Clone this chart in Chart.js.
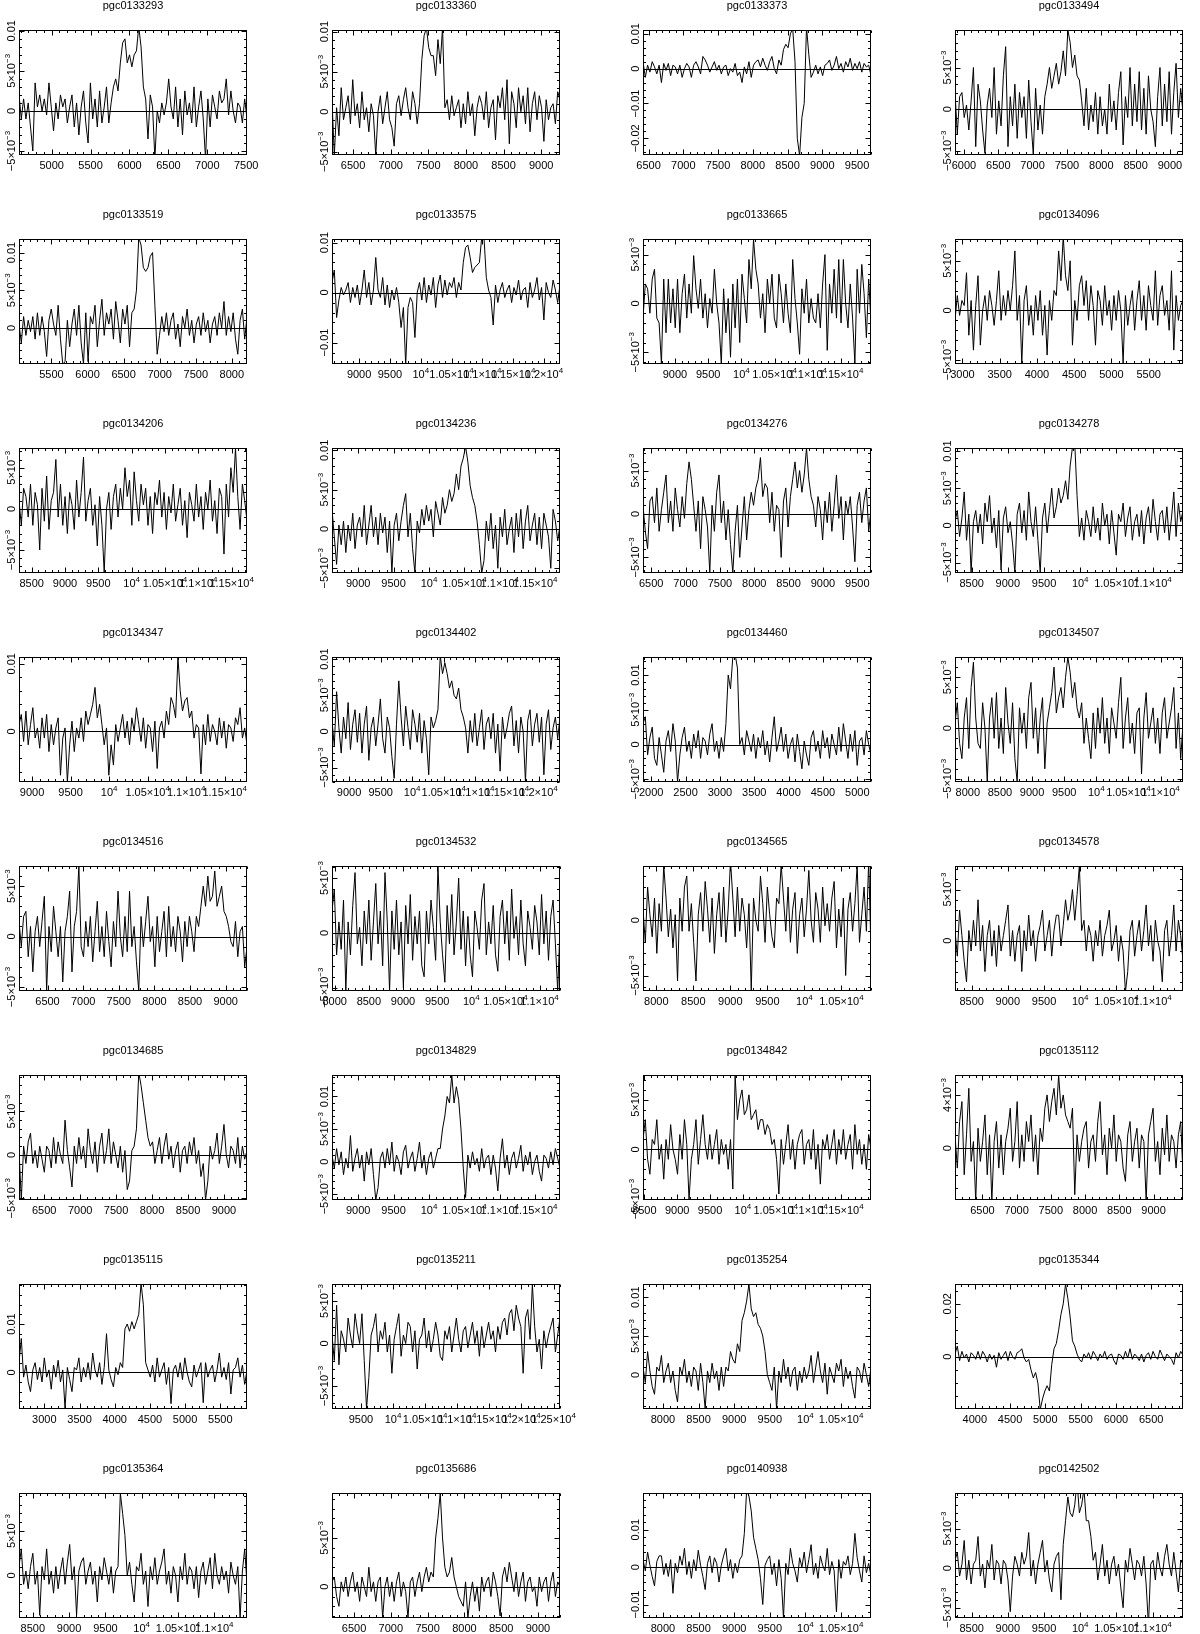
<!DOCTYPE html>
<html>
<head>
<meta charset="utf-8">
<title>HI spectra</title>
<script src="https://cdn.jsdelivr.net/npm/chart.js@4.4.0/dist/chart.umd.min.js"></script>
<style>
  html, body { margin: 0; padding: 0; background: #fff; overflow: hidden; }
  #sheet { position: relative; width: 1200px; height: 1634px; }
  #sheet canvas { position: absolute; }
</style>
</head>
<body>
<div id="sheet"></div>
<script>
// Panel names, read row by row (4 per row)
const galaxies = [
  'pgc0133293', 'pgc0133360', 'pgc0133373', 'pgc0133494',
  'pgc0133519', 'pgc0133575', 'pgc0133665', 'pgc0134096',
  'pgc0134206', 'pgc0134236', 'pgc0134276', 'pgc0134278',
  'pgc0134347', 'pgc0134402', 'pgc0134460', 'pgc0134507',
  'pgc0134516', 'pgc0134532', 'pgc0134565', 'pgc0134578',
  'pgc0134685', 'pgc0134829', 'pgc0134842', 'pgc0135112',
  'pgc0135115', 'pgc0135211', 'pgc0135254', 'pgc0135344',
  'pgc0135364', 'pgc0135686', 'pgc0140938', 'pgc0142502'
];

// Velocity window of each spectrum (km/s)
const velMin = [4580, 6220, 6420, 5870, 5050, 8560, 8520, 2900,
                8310, 8630, 6380, 8270, 8830, 8730, 1880, 7800,
                6100, 7960, 7820, 8270, 6150, 8630, 8480, 6100,
                2640, 9050, 7720, 3720, 8310, 6200, 7720, 8270];
const velMax = [7510, 9250, 9700, 9190, 8210, 12260, 11950, 5960,
                11730, 11850, 9700, 11420, 11790, 12340, 5200, 11350,
                9300, 11300, 10900, 11420, 9320, 11850, 11950, 9430,
                5880, 12600, 10920, 6950, 11450, 9300, 10920, 11420];

// Flux axis range and labelled step, in units of 10^-3
const fluxMin = [-5.5, -5.4, -24.8, -5.5, -4.8, -14.3, -6.2, -5.4,
                 -7.8, -5.6, -6.8, -6.4, -7.5, -7, -5.4, -5.3,
                 -5.4, -5.3, -6.4, -4.9, -5.2, -5.9, -5.1, -3.9,
                 -7.6, -7.7, -4.4, -19.8, -4.8, -3.2, -13.6, -6.3];
const fluxMax = [10.1, 10.2, 11.1, 9.5, 11.8, 10.7, 6.6, 7.2,
                 7.4, 10.3, 7.6, 10.4, 11, 10.3, 12.6, 7,
                 7, 6.1, 4.9, 7.3, 9.2, 13.3, 7.5, 5.5,
                 18.3, 7, 11.7, 27.5, 9.3, 9.6, 19.8, 9.5];
const fluxStep = [5, 5, 10, 5, 5, 10, 5, 5,
                  5, 5, 5, 5, 10, 5, 5, 5,
                  5, 5, 5, 5, 5, 5, 5, 4,
                  10, 5, 5, 20, 5, 5, 10, 5];

// Flux per channel (10^-3), 100 channels evenly spread over the window
const s0133293 = [2,-1,1.5,-1,1,-2,-5,3.5,0.5,2, 0,1.5,-0.5,3.5,0.5,-2.5,1,-1,2,0.5, 1.5,-1.5,0.5,2,-2,1,-3,0.5,2.5,-1.5, -4,3.5,-1,1.5,-2,2.5,-1.5,0.5,3,-1.5, 1,3,4,2.5,6,8.5,9,6,7,5.5, 7,7.5,10.5,8,3,1.5,-3.5,2,0.5,-6, 0,-1.5,1,-0.5,1,4,0.5,-1,3,-2, 1.5,-3,2.5,-0.5,1,-1.5,3,-2,0.5,2.5, -1,-6,1.5,-2,2,0.5,-1,2.5,1,1.5, 4,-0.5,2.5,0,-1.5,1,0.5,-1.5,1.5,-1];
const s0133360 = [1.5,-5.5,0.5,-3,3,-1,0.5,2,-1.5,4, -0.5,1,-2,2.5,-1,0.5,-2.5,1,-0.5,-5.5, 0,2,-1.5,0.5,2.5,-1,-2,-4.3,1,2, -0.5,1.5,3,0.5,-1,2.5,1,-1.5,1,6.5, 9.5,10.5,8,7,7,4.5,9,6,10.5,0.5, 1.5,-1,2,-0.5,0.5,1.5,-2,1,-1.5,2.5, -0.5,1,-3,0.5,2,1,-1,2.5,-2,0.5, 1.5,-3.5,2,0.5,3,-1,4,-4,2.5,1, -2,3,0,2,-1.5,3,-2.5,1,2.5,-1, 2,0.5,-3.7,1.5,-1,0.5,1,-1.5,2.5,1.5];
const s0133373 = [2,-2.5,1,-1,2,0.5,-1.5,1,-4,1.5, -0.5,1.5,-2,1,0.5,-1.5,1,-2.5,0,1.5, 0.5,-2.5,1,2,0.5,-1.5,3.5,2.5,1,-1, 0.5,2,-0.5,1,-1.5,0.5,1,-2,0,-1, 1.5,-2,-1,-4,0.5,-1.5,2,-2.5,1,2, 2.5,0.5,3,1,-0.5,2,3.5,0,-1.5,2.5, 1,5.5,7,6,10,11.5,2,-20,-25,-14, -10,12,4,-2.5,-1,1,-1.5,0.5,-2,1, 1.5,2.5,-0.5,1,3.5,0,1.5,-1,2,0.5, 3,-0.5,1.5,0,2,-1,1.5,0.5,1,-2];
const s0133494 = [2,-3,1.5,2,-1,0.5,-2.5,1,5,-4.5, 3,1,-2.5,-5.3,0.5,2.5,-1,5,-3,1, -2,4,7.5,-4.5,1.5,-2,3,-3.5,2,-1, 1.5,-3.5,3.5,-1.5,-5.5,2.5,-2.5,0.5,-3,1.5, 3,5,2.5,4,5.5,3,4.5,7,4,9.5, 8,5,6.5,4,3.5,1,-2,2.5,-2.5,0.5, -1.5,2,-3,1.5,-2,0,-3,3,-1.5,1, -2.5,2,4.5,-4.3,1.5,-1,5,-2,3,-1.5, 4.5,-2.5,2.5,-3,4,0,-1.5,-4.5,1.5,5, -2,3,-1.5,4.5,-3,2,5.5,-1,2.5,-0.5];
const s0133519 = [0.5,-2,1.5,-1,1,-0.5,1.5,-1.5,2,-1, 1.5,-0.5,-3.8,1,2.5,0.5,-1,3,-1.5,-4.8, -4.5,1,-2.5,0.5,2.5,-1,3,-2,-4.8,2, -4.5,1.5,0.5,3,-2.5,1,3.8,-1,2,0.5, 2.5,-1.5,3.5,1,-2,2.5,0.5,3,-2.5,2, 2.5,5,12,11,8,7.5,8,9.5,10,3, -3.5,-1,1.5,-0.5,2,-1,1,2,-1.5,0.5, -2.5,1.5,0,2.5,-1,1,-2,0.5,1.5,-1, 2,-0.5,1,-2,0.5,1.5,-1,2,0,3.5, -1,1.5,-0.5,2,-1.5,-3.5,1,2.5,-1.5,1.5];
const s0133575 = [2,4.5,-5,-1.5,1,-0.5,0.5,2,-2,1, -1,1.5,-2.5,0.5,4.5,-1,2,-2.5,0.5,7, 0.5,-1,3,-2.5,1.5,-3,0.5,-1.5,1,-2, -7,-3,-14.5,-3,-1,-2,-9,0,2,-1.5, 3,-2,1.5,-0.5,3,-3,1.5,3.5,-1,2.5, -0.5,2,1,3,-1,2,0.5,6,9,9.5, 7,4,5,5.5,6,11,11,3,0.5,-1, -6.5,1.5,-2,0.5,2,-1,0.5,1.5,-2,1, -0.5,2.5,-1.5,0.5,1,-3,2,-1,0.5,3, -1.5,1,-5.5,2,0,-1,2.5,0.5,-2,1.5];
const s0133665 = [-1.5,2,1.5,-1,2.5,3.5,-1.5,-2,-6.2,2.5, -3,2.5,-2,1.5,-2.5,2.5,-3,1,3,-1.5, 2,-1,4.9,1.5,-0.5,2.5,-1.5,1,-2.5,0.5, -1,3.5,0,-2,-6.2,1.5,-3,0.5,-5.5,2, -2.5,2.5,-4,3,0.5,-2,4.5,1.5,6.6,3.5, 2,-1.5,1,-3,2.5,0,3,-1.5,-2.5,3, 1,-2,2,-1,-3,4.5,0.5,-2,-5.2,1.5, -1,2.5,-2,0.5,-1.5,-2,1,-2.5,2,5, -4.8,2,-1,3.5,-1.5,4.5,-2,4.5,0,-2.5, 2,-1.5,-6.2,3.5,-1,4,1,-3.5,2.5,-2];
const s0134096 = [-1,1.5,-0.5,1,0.5,3.8,-2.5,1,-4,0.5, 3.5,-3.5,0,1.5,-1,2,0.5,-1.5,1,4, -1,1.5,-0.5,2,0,2.5,6,-1,1.5,-5.4, 1,2.5,-1.5,0.5,-2.5,1.5,-1,2,-2.5,0.5, -4.5,1,-1,2,1.5,6,3,7.5,3.5,2, 5,-3.5,1,-1,2.5,3.5,0.5,3,-1,2.5, 0.5,-3.5,2,1,-1.5,2.5,-0.5,1,-2,1.5, -1,2,0,-5.3,1.5,-1.5,0.5,2,-2,1, 3,-1,1.5,-2,2.5,0.5,-1,4,-1.5,1.5, 2.5,-0.5,1,-2,4,-4,1.5,-1,0.5,1];
const s0134206 = [1,-2,2.5,1.5,-1,3,-2,2,0.5,-5, 2.5,-1.5,4,-2.5,1,2,6,-1,3,-2, 1.5,-3,2,0.5,-2.5,3.5,-1,2,6.3,-1.5, 1,2.5,-2,0.5,-4.5,1.5,-2,-7.8,0,2, -2.5,1.5,3,-1,2.5,0,5,1.5,3.5,-2, 4.5,1,-1.5,3,0.5,2.5,-2,1.5,-3,2, 0.5,3.5,-1,2,-2.5,1.5,-0.5,3,-1.5,0.5, 2.5,-2,1,-3.5,2,0.5,-1.5,3,-1,1.5, -2.5,2,0,3.5,-1.5,1,-3,2.5,1.5,-5.5, 3,-1,5,2,7.4,1.5,-2.5,3,1,-1.5];
const s0134236 = [2.5,-1,-4.5,0.5,-2,1,-3,0.5,-1.5,2, -2.5,0.5,1.5,-1,3,-2,0.5,3,-1,1.5, -2,2,-0.5,1.5,-3,1,-5.6,0.5,2,-1.5, 1,3,4.5,-1,2,-2.5,-5.6,1,-0.5,2.5, 0.5,3,1,2.5,-1,3.5,2,0.5,4,2, 3,5,3.5,4.5,7,5,8,9,10.5,8.5, 5.5,4,3,1,-2,-5.6,-4,1,-1.5,2, -2.5,0.5,-5,1.5,-1,2.5,-2,0,1.5,-3, 2,-1,2.5,-2.5,1,3,-1.5,0.5,2,-2, 1.5,-2.5,2,0.5,-1,-5,2.5,1,-1.5,0.5];
const s0134276 = [1,-2,-4,1.5,2,-1,3,-2,0.5,2.5, 4.5,-1,1.5,-2,3,0.5,-1.5,2,-0.5,3.5, 6,4,1,-2,1.5,-4,2,0.5,-1.5,-6.8, 1,-2,2.5,4.5,-1,1.5,-3,0.5,-3.5,-6.8, -2,1,-5,-1.5,2,-3,0.5,2.5,1,3, 4,6.5,2,3.5,3,-1,2.5,-2,1,0.5, -5,1.5,3,-1.5,2,4,6,3,5,2.5, 4.5,7.6,4,2,1,-1.5,2,0.5,-3,1.5, -1,2.5,-2,1,4.5,-0.5,2,-3,1.5,0, 2,-1.5,-5.5,1,2.5,-1,1.5,3,-2,0.5];
const s0134278 = [0.5,2,-1.5,1,4.5,-2,1.5,-6.4,0.5,2, -1,1.5,-2.5,3,0.5,4,-1,1,-3,2, -6,1,2.5,-1,0.5,-2.5,-6.4,1.5,3,-1, 2,-2,4.5,0.5,-1.5,2.5,-2,-6.4,1,3, -1,2,5,1,2.5,5,3,4,6,3.5, 8,10.5,11,4,-1.5,1,-2,2,0.5,-1.5, 2.5,-1,1,-2,3,0,1.5,-2.5,2,-1, -4,1.5,0.5,3,-1.5,1,2.5,-2,0.5,1.5, -1.5,2,-2.5,1,2.5,-1,3.5,0.5,-2,1.5, 2,-1,2.5,-2,1,4.5,-1.5,3,0.5,2];
const s0134347 = [1,2.5,-1.5,3,-2,1,3.5,-1,0.5,-2.5, 2,-1,2.5,-3,1,-2,0.5,2,-6.5,-1, 0.5,-7.5,-2,1.5,-3,0.5,-1,2,-1.5,3, 1,2.5,4,6.5,2,4,1,-2,0.5,-6.5, -2,-5,1,-1.5,0.5,2.5,-1,1.5,-2,2, 0,3.5,1,-1.5,2,-2.5,1,0.5,-3,1.5, -5.5,0.5,1.5,-1,3,1,5,4,2,11, 6,3,4.5,5,2,3,-1,1,0.5,-6.3, 1,-2,2.5,-1.5,1,0,-2,2,-1,1.5, -2.5,1,0.5,-1.5,2,1,3.5,-1,0.5,-2];
const s0134402 = [1.5,-2,5.5,0.5,-3,2,-1,4,-2.5,1, 3,-1.5,2.5,-3,1,3.5,-4,0.5,2,-2, 1,4.5,-1,-3,2,0.5,-3.5,-6.5,1,7, 2,-2,3.5,0.5,-2.5,3,1,-1.5,2.5,-3, 1.5,-1,-6,2,0.5,1.5,3,10.5,8,9.5, 8,6,7,5,4.5,6,3,2,0.5,-3, 1.5,-1.5,2.5,-2,0.5,3,-2.5,1,2,-1, 2.5,-3,1,-5.5,2,-1,0.5,2.5,3.5,-2, 1.5,-3,2,0,-7,1.5,3,-2,1,2.5, -1.5,2,-6,1,3,-2.5,0.5,2,-1,2];
const s0134460 = [3,4,-1.5,1,2.5,-2,-3,1,-1.5,-4, 0.5,2,-1,3,0.5,-5.4,-1.5,1,2.5,-1, 0.5,-2,1.5,-0.5,2,-2,1,0.5,-1.5,1.5, 3,-1,0.5,-2,1,-1,3,10,8,12.6, 13,11,0,1,-1.5,2,0.5,-1,1.5,-2, 1,-0.5,2,-1.5,0.5,-2.5,1,4,-1,0.5, 2.5,-1,1.5,-2,0,1,-2.5,1.5,-1,-3.5, 0.5,-1.5,-3,1,2,-1,0.5,-2,2,-0.5, 1,-2,1.5,0,-1.5,2.5,-1,3,0.5,-2, 1.5,-1,2,-3,0.5,1,-1.5,2,0,-1.5];
const s0134507 = [0.5,2.5,-1.5,-3,1,3,-2,4,6.5,1, -1.5,-2,2.5,0,-5.3,1,3,-1,3.5,-2, 1,-2.5,4,0.5,-1.5,2.5,-3,-5.3,2,-0.5, 1.5,-2,3,4.5,-1,2,-2.5,1,3,-4, 0.5,2,3.5,6,1.5,3,4,2,5,7, 5.5,3,4.5,2,1,2.5,-1.5,1,-1,-3, 1.5,-2,2,-0.5,3,-1.5,1,-2.5,2,0.5, -1,2.5,5,-2,1,3,-1.5,0.5,-2.5,1.5, 2,-4.5,1,3.5,-1,0.5,2,-1.5,1,-2.5, 1.5,3,-1,0.5,2,4,-2,1.5,-3,0.5];
const s0134516 = [1.5,-1,2,2.5,-2,1,-3.5,0.5,2,-1, 1.5,4,-5.4,1,-1.5,3,0.5,-2,1,-4.5, 0.5,2,4.5,-3.5,1,2.5,7,-1,-2,1.5, -1,2,-2.5,0.5,3.5,-1.5,1,-2,2.5,-0.5, -3,1.5,-1,4.5,0,-2,2,-1.5,4.5,-1, 1,-2.5,-5.4,2,-1,1.5,4,-0.5,1,-3, 2,-1.5,0.5,2.5,-2,3,-1,1,-1.5,2, 0.5,-2.5,1.5,-1,2,0.5,-1.5,2,1,3, 5,3,6,3.5,4,6.5,3,4,5,2.5, 2,1,-0.5,-1,1.5,-2,0.5,1,-3,-1];
const s0134532 = [2,4,-2,1,-1.5,3,-5.3,1,-2,2.5, 5.5,-1,0.5,-3,2,-1,3,-2.5,1,4.5, -1,2,-3,5.5,1,-5.3,2,-1.5,3,-2, 1,-5,2.5,-1,3.5,-2.5,1.5,-1,2,-3, -4,2,-1,3,0.5,-2.5,6.1,1,-2,-4.5, 2.5,-1,3.5,-2,1,5,-1.5,2,-3,1.5, -2,-4,2,0.5,-1.5,3,4.5,-2,1,-1, 2.5,-2,-3.5,1.5,3,-1,2,-2.5,4,-0.5, 1.5,-2,3,-1,-3,2,0.5,-1.5,2.5,1, -2,3.5,-1,2,-2.5,1.5,3,-1,-5.3,0.5];
const s0134565 = [1,-2,3,0.5,-1.5,2,-3,1.5,-1,5, 2,-1.5,1,-2.5,0.5,-5.5,2,-1,3,4, -1,1.5,-2,-5.5,0.5,2.5,-1,3.5,1,-2, 2,-3,0.5,2.5,-1.5,3,-2,1,5.4,2, -1.5,3,-1,2,0.5,-2.5,1.5,-6.4,2,0, -1,4,1.5,-2,3,0.5,-1.5,-2.5,2,1.5, 5,2,-1,3,-2,1,2.5,-3,0.5,2, -1.5,1,4.5,0,-2,2.5,1,-2,3,-0.5, 1.5,-1,2,3.5,-2.5,1,-1.5,2,-5,1, 2.5,-1,1.5,5,-2,0.5,3,-1,5.4,-3];
const s0134578 = [1,-1.5,3,0.5,-2,-4,1,-1,2,-0.5, 4,-1,1.5,-3,0.5,2,-1.5,1,-2.5,1.5, -1,0.5,2,3.5,-1.5,1,-2,0.5,1.5,-3, 1,-1,2.5,-0.5,1,-2,0.5,1.5,3,-1, 0.5,2,-1.5,1,2.5,2.5,-0.5,1.5,4,2, 3,5,2,4.5,7.3,1,2,-1,1.5,0.5, -2,1,-0.5,2,-1.5,0.5,1.5,3,-1,0, 1.5,-2,0.5,-1,-5,-3,1,2,-1.5,0.5, 2,-1,1,3.5,-0.5,1.5,-2,2,0,-1, -4,1,2,-1.5,0.5,3.5,-1,2,0.5,-2];
const s0134685 = [0.5,-5.2,1,-1,1.5,2.5,-1,0.5,-1.5,1, -0.5,-2,1,0.5,-1.5,2,-1,1.5,0,-1, 4,0.5,-1.5,-3.7,1,-1,2,-0.5,1,-1.5, 3,0.5,-1,1.5,-2,1,2.5,-1,0.5,3, -1,1.5,0,-1.5,1,-2,0.5,-4,-3,0.5, 1,3,9.5,8,6,4,2,1,1.5,-1, 0.5,2,-1,1,2.5,-0.5,1,-1.5,0.5,1.5, -2,0.5,1,-1,1.5,0,2,-1,0.5,-2.5, -1,-5.2,-3,1,-0.5,0.5,2.5,-1,1,3.5, 0,-1.5,1,0.5,-1,2,-1.5,1,-0.5,0.5];
const s0134829 = [1,-1,2,-0.5,1.5,-2,0.5,-1,4,-1.5, 0.5,2,-1,1,-3,1.5,-0.5,2,-2,-5.9, -4,0.5,1.5,-1,2,-0.5,3,-1.5,1,0, -2,1.5,2.5,-1,0.5,1.5,-1.5,0.5,3,-1, 1,-2,0.5,1.5,-1,0.5,2,2,5,7, 10,9,13.3,9,11.5,9.5,5,-1,-5.5,1, -1,1.5,-0.5,0.5,-1.5,2,-1,0.5,1,-2, 1,-1,-4.5,0.5,3.5,-1,1,-2,0.5,1.5, -1,0.5,2.5,-1.5,1,-0.5,1.5,-2,0,1, -1.5,-3,1,0.5,-1,1.5,-0.5,2,0.5,-1];
const s0134842 = [1,3,-1,-2.5,1,0.5,3,-1,0.5,-3, 1,-1,2.5,0,-1,-2.5,1.5,-1,3,0.5, -5.1,-1,0.5,3,-1.5,1,3.5,0.5,-1,1.5, -1,0.5,2,-1.5,1,-0.5,0.5,-2,1,-4, 7.5,3,5,6,3.5,4,5.5,3,3.5,4, 2,3,3,1.5,2.5,2,0.5,1,-1,-4.5, 1,-1.5,0.5,2.5,-1,1,-2,0.5,1.5,2, -1.5,0.5,1,-1,2,-2,0.5,-3.5,1,0, 1.5,-1,0.5,2,-1.5,1,-0.5,2,-1,0.5, 1.5,-2,2.5,-0.5,1,-1.5,0.5,-2,1.5,0];
const s0135112 = [1,-1.5,2,3.5,-2,1,4.5,-1,0.5,-4, 1.5,-1,0.5,2.5,-2,1,-4,0.5,2,-1.5, 1,-2,0.5,1.5,3,-1,0.5,3.5,-1.5,1, -1,2,0.5,2.5,-1,1,-2,1.5,0.5,3, 4,2,3.5,4.5,2.5,5.5,3,4,2.5,2, 1.5,3,-3.5,1,-1,0.5,1.5,2,-1.5,0.5, 1,-1,2,3.5,-0.5,1,-2,1.5,0,2.5, -1,1,0.5,-1.5,-2.5,1,2,-1,0.5,1.5, -1.5,1,0.5,-4,1,2,3,-1,0.5,-2, 1.5,-0.5,2.5,-1,1,0.5,-1.5,1,2,-2];
const s0135115 = [2,7,-1,1.5,-2,-4,0.5,2,-1.5,1, -2,3,-1,0.5,-3.5,1.5,-1,2.5,-2,0.5, -7.6,1,-1.5,-4,1,0.5,3,-2,1,-1, 2,-1.5,4,0.5,-1,2,-2.5,1,8,0.5, -1.5,-3,1,-0.5,2,1,9,10,8.5,10.5, 9,10.5,12,18.5,14,2,0.5,-1,1.5,-2, 3,-1,0.5,2,-2.5,1,-6.5,0.5,1.5,-1, 2,-1.5,3,0,-2,-3,1.5,-1,0.5,2, -6.3,2,-1,0.5,1.5,-2,0.5,4,-1,1, -1.5,2,-4.5,0.5,1,3,-1,1.5,-2.5,0.5];
const s0135211 = [1,-2,4.5,-2.5,1.5,0.5,-1,3,1,-0.5, 3.5,1.5,0,3.5,-2,-7.7,-4,1,2,3.5, -1,1.5,0.5,2.5,-1,1,-3.5,0.5,2,3.5, -1.5,1,0,2.5,2,-1,1.5,-3,0.5,1, 3,-0.5,1.5,-1,0.5,2.5,1,-1.5,-2,1.5, 0.5,2,-1,1,3,0.5,-1,1.5,2,-0.5, 1,2.5,0,1.5,-1.5,2,-0.5,1,2.5,0.5, 1.5,-1,2,0.5,2.5,3,1,3.5,4,1.5, 4.5,3,2,-3.5,3,4,0.5,7,2,-1, 0.5,-3,1.5,-0.5,1,2,3,-1,1,3];
const s0135254 = [1,-1,3,0.5,-1.5,-2.5,1,0.5,2.5,-1, 0.5,1.5,-1,0.5,-2,-3.5,1,0,2,-1, 0.5,-1.5,1,0.5,-2,1.5,-1,-4.4,0.5,-1, 1.5,-0.5,0.5,-2,1,-1.5,1,0.5,3,2, 1.5,4,3,7,8,9.5,11.7,8.5,7.5,8, 6.5,6,5,3,0,-1,-2,1,-4.4,0.5, -1,2,-0.5,1,-1.5,0.5,1,-2,0.5,-1, 1,-0.5,0.5,2.5,-1,1,3,0.5,-1,1.5, -2.5,1,0,-1,1.5,0.5,2,-1.5,1,-0.5, 0.5,-1.5,-3,1,0.5,-1,1.5,0,-1.5,1];
const s0135344 = [1,4,-1.5,2,-0.5,1,-2,1.5,0.5,-1, 2,-1,2,0.5,-2,1,-1,0.5,-4,1.5, -1,0.5,2,-1.5,2,0,-1,1.5,2,3, -0.5,-2,-1,-5,-8,-6,-10,-20,-16,-13, -11,-13,-3,3,5,10,16,20,27.5,22, 15,6,4,1,-1,-2,1,-0.5,1.5,-1, 2,0.5,-1.5,1,-0.5,2,-1,0.5,1,-1.5, -3,1,0.5,-1,2,-0.5,3,-1,1,0, -1.5,1,-2,0.5,1.5,-1,2,0,-1,2.5, 0.5,-1.5,1,0,-1,-3,1.5,-0.5,2,0.5];
const s0135364 = [1,3,-1,0.5,-1.5,1,2.5,-1,0.5,-4.5, 1,-0.5,3,-1,0.5,-2,1,-1.5,0.5,2, -1,1.5,3.5,-0.5,1,-4.5,0.5,1.5,2,-1, 0.5,1.5,-1,0.5,-3,1,-0.5,2,0.5,-1, 1,-2,0.5,1,9.3,7,4.5,0,1.5,-1, -3,1,0.5,2.5,-1,0.5,-3.5,1,-0.5,2, -1,0.5,1.5,3,-1,0.5,-2,1,0,-3, 1,-0.5,2.5,-1,1,0.5,-1.5,1,-2.5,0.5, 1.5,-1,0.5,2,-1.5,2.5,0,-1,1,-0.5, 0.5,-2,1.5,0,-1,1,-4.8,0.5,3,-1];
const s0135686 = [0.5,1,-1,-2,0.5,-0.5,1,-1,0.5,1.5, -0.5,0.5,-1.5,1,0,-1,2,-0.5,0.5,-1.5, 0.5,1,-3.2,0,1,-1,0.5,-1.5,0.5,1.5, -1,0.5,-0.5,-3.2,0.5,1,-1,0.5,1.5,-0.5, 1,2,0.5,1.5,1,5,7,9.6,5,2, 1,1.5,3,1,0,-1,-1.5,-2,0.5,-3.2, -1,0.5,-1.5,0,-2.5,1,-0.5,0.5,1,-1, 1.5,0.5,-1,-3,1,2,0.5,2.5,1,-0.5, 1.5,-1,0.5,1.5,-1.5,0.5,1,-0.5,0,-2, 1,-0.5,0.5,1,-1.5,0.5,1.5,-1,0.5,0];
const s0140938 = [2,-1,4,0.5,-2.5,-5,1.5,3,3,-2, 1,-2.5,2,-7,1,-1.5,3,0.5,5,-2, 1.5,-3,2,-1,4.5,0.5,-2.5,-6,1,3, -1.5,2.5,1,-4,0.5,3,5,-1,2,-3, 1,-1.5,2,3,9,20.5,19,15,8,5, 2,-3,-10,0.5,2,3,-2,1,-5,2, -3,-13.6,1,-2,5,1,-1,-4,2.5,0, 4,-1.5,2,6,-2,1,-3,3,0.5,-1, 5,-2,1.5,-1,-12,2,-3,1.5,0.5,3, -2,1,9,2.5,-1,-4,3,-1.5,1,-2.5];
const s0142502 = [1,2,-1,0.5,3.5,-1.5,1,-2,0.5,1, 4,-1,0.5,-2.5,1,0,3,-1.5,1,0.5, -2,1,0.5,-1.5,-5.5,-1,1.5,0.5,-1,2, 0.5,1.5,4.5,-1,1,-2,0.5,2,3.5,-0.5, 1,-1.5,-3,0.5,1.5,2,-4,3,6,9, 7,6.5,8,11,7,8,10,6,6,4, 1,2,-1.5,0.5,3,-1,1,-2,0.5,1.5, -1,0.5,-2.5,-5,1,-0.5,2.5,0.5,-1.5,1, 0.5,-1,1.5,-2,-7.3,0.5,1,-1.5,2,0, -1,1.5,3,0.5,-1,2,-0.5,-3,1,0.5];

const spectra = [
  s0133293, s0133360, s0133373, s0133494,
  s0133519, s0133575, s0133665, s0134096,
  s0134206, s0134236, s0134276, s0134278,
  s0134347, s0134402, s0134460, s0134507,
  s0134516, s0134532, s0134565, s0134578,
  s0134685, s0134829, s0134842, s0135112,
  s0135115, s0135211, s0135254, s0135344,
  s0135364, s0135686, s0140938, s0142502
];

// Page layout (pixels)
const colLeft = [19, 332, 643, 955];
const rowH = 209;
const boxW = 228, boxH = 125, boxTop = 30;
const padL = 22, canW = 310;
const FONT = '"Liberation Sans", Arial, sans-serif';

// Tick label text as [text, isSuperscript] pieces
function velLabel(v) {
  if (v < 10000) return [[String(v), false]];
  const m = v / 10000;
  if (m === 1) return [['10', false], ['4', true]];
  return [[m + '×10', false], ['4', true]];
}

function fluxLabel(v) {
  if (v === 0) return [['0', false]];
  const sign = v < 0 ? '−' : '';
  const a = Math.abs(v);
  if (a >= 10) return [[sign + String(a / 1000), false]];
  return [[sign + a + '×10', false], ['−3', true]];
}

// Draw a label centred on (x, y), with small raised exponents
function drawRich(ctx, parts, x, y) {
  const base = '11px ' + FONT, sup = '8px ' + FONT;
  let total = 0;
  parts.forEach(p => { ctx.font = p[1] ? sup : base; total += ctx.measureText(p[0]).width; });
  let cx = x - total / 2;
  ctx.textAlign = 'left';
  ctx.textBaseline = 'alphabetic';
  parts.forEach(p => {
    ctx.font = p[1] ? sup : base;
    ctx.fillText(p[0], cx, p[1] ? y - 1 : y + 4);
    cx += ctx.measureText(p[0]).width;
  });
}

// Box with inward ticks on all sides, zero line, labels and title
const frame = {
  id: 'frame',
  afterDraw(chart, args, opts) {
    const k = opts.k;
    const ctx = chart.ctx;
    const a = chart.chartArea;
    const xs = chart.scales.x, ys = chart.scales.y;
    const L = Math.round(a.left) + 0.5, R = Math.round(a.right) - 0.5;
    const T = Math.round(a.top) + 0.5, B = Math.round(a.bottom) - 0.5;

    ctx.save();
    ctx.strokeStyle = '#000';
    ctx.fillStyle = '#000';
    ctx.lineWidth = 1;
    ctx.strokeRect(L, T, R - L, B - T);

    ctx.beginPath();
    const y0 = Math.round(ys.getPixelForValue(0)) + 0.5;
    ctx.moveTo(L, y0); ctx.lineTo(R, y0);

    // velocity ticks: major every 500, minor every 100
    for (let v = Math.ceil(velMin[k] / 100) * 100; v <= velMax[k]; v += 100) {
      const px = Math.round(xs.getPixelForValue(v)) + 0.5;
      const len = v % 500 === 0 ? 5 : 2.5;
      ctx.moveTo(px, B); ctx.lineTo(px, B - len);
      ctx.moveTo(px, T); ctx.lineTo(px, T + len);
    }
    // flux ticks
    const step = fluxStep[k];
    const minor = step === 20 ? 5 : (step === 10 ? 2 : 1);
    for (let v = Math.ceil(fluxMin[k] / minor) * minor; v <= fluxMax[k]; v += minor) {
      const py = Math.round(ys.getPixelForValue(v)) + 0.5;
      const len = v % step === 0 ? 5 : 2.5;
      ctx.moveTo(L, py); ctx.lineTo(L + len, py);
      ctx.moveTo(R, py); ctx.lineTo(R - len, py);
    }
    ctx.stroke();

    for (let v = Math.ceil(velMin[k] / 500) * 500; v <= velMax[k]; v += 500) {
      drawRich(ctx, velLabel(v), xs.getPixelForValue(v), B + 10);
    }
    for (let v = Math.ceil(fluxMin[k] / step) * step; v <= fluxMax[k]; v += step) {
      ctx.save();
      ctx.translate(L - 9, ys.getPixelForValue(v));
      ctx.rotate(-Math.PI / 2);
      drawRich(ctx, fluxLabel(v), 0, 0);
      ctx.restore();
    }

    ctx.font = '11px ' + FONT;
    ctx.textAlign = 'center';
    ctx.textBaseline = 'middle';
    ctx.fillText(galaxies[k], (L + R) / 2, a.top - 24);
    ctx.restore();
  }
};

const sheet = document.getElementById('sheet');

galaxies.forEach((name, k) => {
  const row = Math.floor(k / 4), col = k % 4;
  const canvas = document.createElement('canvas');
  canvas.width = canW;
  canvas.height = rowH;
  canvas.style.left = (colLeft[col] - padL) + 'px';
  canvas.style.top = (row * rowH) + 'px';
  canvas.style.width = canW + 'px';
  canvas.style.height = rowH + 'px';
  sheet.appendChild(canvas);

  const flux = spectra[k];
  const dv = (velMax[k] - velMin[k]) / (flux.length - 1);
  const points = flux.map((f, i) => ({ x: velMin[k] + i * dv, y: f }));

  new Chart(canvas, {
    type: 'line',
    data: {
      datasets: [{
        label: name,
        data: points,
        borderColor: '#000',
        borderWidth: 1,
        pointRadius: 0,
        tension: 0,
        fill: false
      }]
    },
    options: {
      responsive: false,
      animation: false,
      events: [],
      layout: {
        padding: { left: padL, top: boxTop, right: canW - padL - boxW, bottom: rowH - boxTop - boxH }
      },
      plugins: {
        legend: { display: false },
        tooltip: { enabled: false },
        frame: { k: k }
      },
      scales: {
        x: { type: 'linear', min: velMin[k], max: velMax[k], display: false },
        y: { type: 'linear', min: fluxMin[k], max: fluxMax[k], display: false }
      }
    },
    plugins: [frame]
  });
});
</script>
</body>
</html>
